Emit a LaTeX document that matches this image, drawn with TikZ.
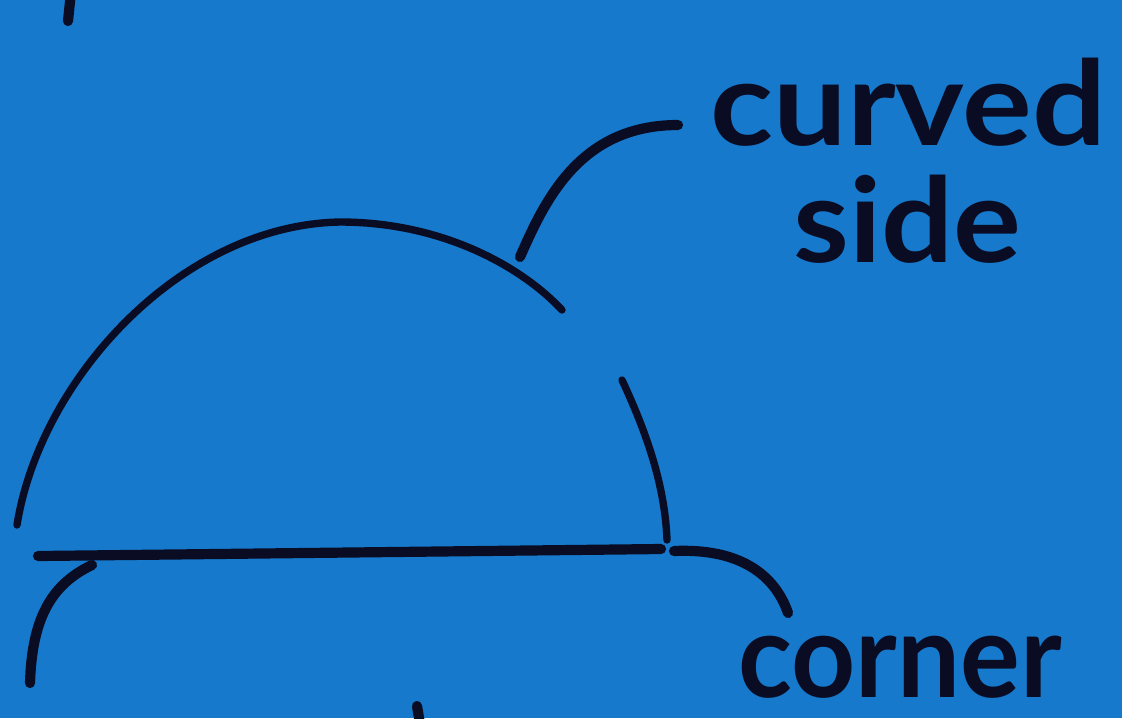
\documentclass[tikz,border=0pt]{standalone}
\usepackage{fontspec}
\setmainfont{Lato}
\usepackage{tikz}
\definecolor{board}{RGB}{22,121,203}
\definecolor{ink}{RGB}{10,12,36}

\begin{document}
\begin{tikzpicture}[x=0.02cm,y=-0.02cm,
pen/.style={draw=ink,line width=5.8pt,line cap=round},
thinpen/.style={draw=ink,line width=4.2pt,line cap=round},
word/.style={text=ink,font=\fontsize{67}{67}\selectfont\bfseries,inner sep=0pt,anchor=base west}]
\useasboundingbox (0,0) rectangle (1122,718);
\clip (0,0) rectangle (1122,718);
\fill[board] (0,0) rectangle (1122,718);
\node[word,xscale=1.11] (curved) at (710,145) {curved};
\node[word,xscale=1.08] (side) at (793,262) {side};
\node[word,xscale=0.95] (corner) at (738,697) {corner};
\coordinate (arcL) at (17,525);
\coordinate (arcT) at (340,222);
\coordinate (arcR) at (562,310);
\coordinate (sideT) at (622,380);
\coordinate (sideB) at (667,540);
\coordinate (baseL) at (38,556);
\coordinate (baseR) at (661,549);
\coordinate (tipA) at (520,257);
\coordinate (tipB) at (678,125);
\coordinate (tipC) at (674,551);
\coordinate (tipD) at (788,613);
\coordinate (tipE) at (92,565);
\coordinate (tipF) at (30,683);
\draw[thinpen](arcL) .. controls (40,380) and (180,225) .. (arcT)
 .. controls (440,222) and (520,265) .. (arcR);
\draw[thinpen](sideT) .. controls (650,440) and (665,490) .. (sideB);
\draw[pen](baseL)--(baseR);
\draw[pen](tipA) .. controls (545,200) and (580,125) .. (tipB);
\draw[pen](tipC) .. controls (740,548) and (775,575) .. (tipD);
\draw[pen](tipE) .. controls (50,585) and (32,620) .. (tipF);
\draw[pen](71,-8)--(68,21)
(417,706)--(421,730);
\end{tikzpicture}
\end{document}
